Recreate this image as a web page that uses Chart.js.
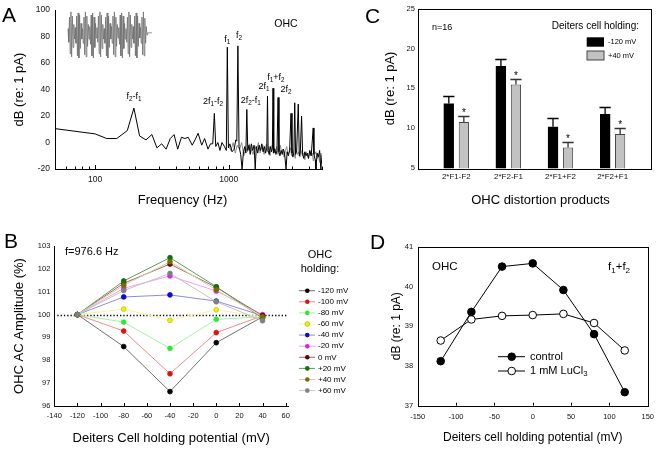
<!DOCTYPE html>
<html>
<head>
<meta charset="utf-8">
<script src="https://cdn.jsdelivr.net/npm/chart.js@4.4.1/dist/chart.umd.min.js"></script>
<style>
  body { margin: 0; background: #fff; }
  #wrap { position: relative; width: 661px; height: 449px; overflow: hidden; }
  canvas { position: absolute; }
</style>
</head>
<body>
<div id="wrap">
  <canvas id="cA" width="330" height="215" style="left:0;top:0"></canvas>
  <canvas id="cC" width="331" height="215" style="left:330px;top:0"></canvas>
  <canvas id="cD" width="331" height="229" style="left:330px;top:220px"></canvas>
  <canvas id="cB" width="360" height="229" style="left:0;top:220px"></canvas>
</div>
<script>
// ---------- datos panel A (espectro)
const specFreq = [
  50, 100, 122, 145, 174, 195, 215, 240, 266, 290,
  315, 340, 365, 390, 415, 443, 470, 497, 533, 560,
  590, 628, 660, 700, 730, 760, 781, 800, 830, 860,
  890, 930, 960, 976.6, 995, 1020, 1060, 1100, 1130, 1150,
  1172, 1195, 1230, 1260, 1290, 1320, 1345, 1367, 1390, 1420,
  1450, 1480, 1510, 1550, 1580, 1610, 1650, 1690, 1730, 1770,
  1810, 1850, 1890, 1930, 1953, 1975, 2010, 2050, 2090, 2125,
  2148, 2175, 2215, 2260, 2300, 2344, 2380, 2420, 2470, 2520,
  2570, 2620, 2690, 2740, 2800, 2860, 2930, 2980, 3030, 3080,
  3125, 3170, 3230, 3320, 3380, 3440, 3516, 3580, 3650, 3720,
  3800, 3880, 3960, 4050, 4150, 4297, 4350, 4450, 4500, 4600,
  4700, 4800, 4900, 5000
];
const specDb = [
  10.5, 6.5, 3, 3, 9, 26, 5, 2, 6, -4,
  -1, -5, 3, 6, -5, 4, 3, 4, -2, 2,
  7, -2, 3, -5, -1, -1, 22, -3, 0, -6,
  0, -3, -6, 72, -4, -1, -7, -5, 2, 1,
  73, -3, -9, -20, -7, -3, -8, 25, -6, -2,
  -9, -1, -6, -2, -20, -3, -8, -2, -6, -1,
  -7, -3, -8, -4, 35, -6, -9, -3, -7, -4,
  41, -8, -5, -9, -6, 34, -7, -10, -6, -9,
  -5, -8, -20, -7, -10, -6, 22, -8, -11, -7,
  30, -9, -6, 29, -10, -7, 20, -9, -12, -7,
  -10, -8, -12, -6, -10, 11, -9, -13, -20, -8,
  -11, -6, -20, -10
];
// segunda traza (gris) en altas frecuencias
const spec2Freq = [
  1000, 1040, 1080, 1120, 1160, 1210, 1250, 1300, 1340, 1380,
  1430, 1470, 1520, 1570, 1620, 1670, 1720, 1760, 1800, 1840,
  1880, 1920, 1960, 2000, 2040, 2080, 2120, 2160, 2200, 2240,
  2290, 2340, 2390, 2440, 2490, 2540, 2600, 2660, 2720, 2780,
  2840, 2900, 2960, 3020, 3090, 3150, 3210, 3280, 3350, 3420,
  3490, 3560, 3640, 3720, 3800, 3880, 3960, 4040, 4130, 4220,
  4310, 4400, 4500, 4600, 4700, 4800, 4900, 5000
];
const spec2Db = [
  -3, -6, 0, -8, -2, -5, 0, -10, -4, -7,
  -1, -5, -9, -3, -6, 0, -8, -4, -2, -9,
  -5, -1, -7, -3, -10, -5, -2, -8, -4, -7,
  -3, -9, -6, -2, -8, -5, -11, -6, -3, -9,
  -7, -4, -10, -6, -8, -12, -5, -9, -7, -11,
  -6, -10, -8, -13, -7, -9, -12, -6, -10, -8,
  -14, -9, -7, -12, -9, -15, -8, -11
];
// forma de onda del recuadro (corriente, unidades relativas)
const insetWave = [
  0.2, -0.45, 0.75, -1.0, 1.0, -1.15, 0.8, -0.7, 0.4, -0.3,
  0.25, -0.5, 0.8, -1.1, 0.95, -1.2, 0.85, -0.75, 0.45, -0.3,
  0.2, -0.5, 0.75, -1.05, 1.0, -1.15, 0.8, -0.65, 0.4, -0.3,
  0.3, -0.55, 0.85, -1.1, 0.95, -1.2, 0.75, -0.7, 0.45, -0.25,
  0.25, -0.45, 0.8, -1.0, 1.0, -1.15, 0.85, -0.75, 0.4, -0.3,
  0.2, -0.5, 0.75, -1.1, 0.95, -1.2, 0.8, -0.7, 0.45, -0.3,
  0.3, -0.5, 0.8, -1.05, 1.0, -1.15, 0.75, -0.65, 0.4, -0.25,
  0.25, -0.55, 0.85, -1.1, 0.95, -1.2, 0.8, -0.75, 0.45, -0.3,
  0.2, -0.45, 0.75, -1.0, 1.0, -1.15, 0.85, -0.7, 0.4, -0.3,
  0.3, -0.5, 0.8, -1.1, 0.95, -1.2, 0.8, -0.65, 0.45, -0.25,
  0.25, -0.5, 0.75, -1.05, 1.0, -1.1, 0.7, -0.5, 0.3, -0.1,
  0, 0, 0, 0, 0, 0, 0, 0
];
const aTicksX = [60, 70, 80, 90, 100, 200, 300, 400, 500, 600, 700, 800, 900, 1000, 2000, 3000, 4000, 5000];
const aLabelsX = [100, 1000];
// etiquetas de picos: [texto (_ = subíndice), frecuencia, dB]
const peakLabels = [
  ['f_2-f_1', 195, 34.4],
  ['2f_1-f_2', 762, 30.6],
  ['f_1', 977, 77.8],
  ['f_2', 1195, 80.6],
  ['2f_2-f_1', 1462, 31.9],
  ['2f_1', 1841, 42.4],
  ['f_1+f_2', 2256, 49.4],
  ['2f_2', 2683, 40]
];

// ---------- datos panel B
const bX = [-120, -80, -40, 0, 40];
const bTicksX = [-140, -120, -100, -80, -60, -40, -20, 0, 20, 40, 60];
const holdLabels = ['-120 mV', '-100 mV', '-80 mV', '-60 mV', '-40 mV', '-20 mV', '0 mV', '+20 mV', '+40 mV', '+60 mV'];
const ampM120 = [100, 98.6, 96.63, 98.77, 99.9];
const ampM100 = [100, 99.28, 97.41, 99.21, 99.95];
const ampM80 = [100, 99.67, 98.52, 99.79, 99.9];
const ampM60 = [100, 100.24, 99.75, 100.21, 99.9];
const ampM40 = [100, 100.77, 100.86, 100.59, 99.95];
const ampM20 = [100, 101.15, 101.69, 101.03, 100.0];
const amp0 = [100, 101.37, 102.21, 101.19, 99.95];
const ampP20 = [100, 101.47, 102.49, 101.22, 99.84];
const ampP40 = [100, 101.28, 102.31, 101.08, 99.9];
const ampP60 = [100, 101.05, 101.8, 100.56, 99.73];
const bSeries = [ampM120, ampM100, ampM80, ampM60, ampM40, ampM20, amp0, ampP20, ampP40, ampP60];

// ---------- datos panel C
const cCats = ['2*F1-F2', '2*F2-F1', '2*F1+F2', '2*F2+F1'];
const cNeg120 = [13.1, 17.8, 10.2, 11.8];
const cNeg120Top = [14.0, 18.7, 11.3, 12.7];
const cPos40 = [10.8, 15.5, 7.6, 9.3];
const cPos40Top = [11.5, 16.2, 8.3, 10.0];

// ---------- datos panel D
const dX = [-120, -80, -40, 0, 40, 80, 120];
const dControl = [38.12, 39.36, 40.5, 40.58, 39.91, 38.8, 37.34];
const dLucl = [38.64, 39.17, 39.26, 39.28, 39.31, 39.08, 38.39];

// ---------- estilos
const FONT = '"Liberation Sans", Arial, sans-serif';
Chart.defaults.font.family = FONT;
Chart.defaults.color = '#111';
Chart.defaults.animation = false;
Chart.defaults.plugins.legend.display = false;
Chart.defaults.plugins.tooltip.enabled = false;

const bMarker = ['#000000', '#e01010', '#33e633', '#f5f000', '#0a0ad0', '#e020e0', '#6a0000', '#0f700f', '#7a6c00', '#808080'];
const bLine = ['#707070', '#f08a8a', '#a6f0a6', '#f8f4a0', '#8c8ce0', '#f0a0f0', '#a86868', '#5c9c5c', '#d6cfa0', '#c4c4c4'];

function fixW(w) { return s => { s.width = w; }; }
function fixH(h) { return s => { s.height = h; }; }

// texto con subíndices: "_" marca el carácter siguiente
function drawRich(ctx, str, x, y, size, align) {
  const parts = [];
  for (let i = 0; i < str.length; i++) {
    if (str[i] === '_') { parts.push([str[i + 1], true]); i++; }
    else parts.push([str[i], false]);
  }
  const sub = size * 0.7;
  let w = 0;
  parts.forEach(([t, s]) => { ctx.font = (s ? sub : size) + 'px ' + FONT; w += ctx.measureText(t).width; });
  let cx = align === 'left' ? x : x - w / 2;
  ctx.textAlign = 'left';
  ctx.textBaseline = 'middle';
  parts.forEach(([t, s]) => {
    ctx.font = (s ? sub : size) + 'px ' + FONT;
    ctx.fillText(t, cx, s ? y + size * 0.3 : y);
    cx += ctx.measureText(t).width;
  });
}

function drawText(ctx, t, x, y, size, align) {
  ctx.font = size + 'px ' + FONT;
  ctx.textAlign = align || 'left';
  ctx.textBaseline = 'middle';
  ctx.fillText(t, x, y);
}

function innerTicks(chart, major, minor, isMajor) {
  const ctx = chart.ctx, sx = chart.scales.x, yb = chart.chartArea.bottom;
  ctx.save();
  ctx.strokeStyle = '#000';
  ctx.lineWidth = 1;
  ctx.beginPath();
  sx.ticks.forEach(t => {
    const px = Math.round(sx.getPixelForValue(t.value)) + 0.5;
    const len = (!isMajor || isMajor(t.value)) ? major : minor;
    ctx.moveTo(px, yb);
    ctx.lineTo(px, yb - len);
  });
  ctx.stroke();
  ctx.restore();
}

function boxPlugin() {
  return {
    id: 'box',
    afterDraw(chart) {
      const { left, right, top, bottom } = chart.chartArea;
      const ctx = chart.ctx;
      ctx.save();
      ctx.strokeStyle = '#000';
      ctx.lineWidth = 1;
      ctx.strokeRect(Math.round(left) + 0.5, Math.round(top) + 0.5, Math.round(right - left), Math.round(bottom - top));
      ctx.restore();
    }
  };
}

function letter(ch, x, y) {
  return {
    id: 'letter' + ch,
    afterDraw(chart) {
      const ctx = chart.ctx;
      ctx.save();
      ctx.fillStyle = '#000';
      ctx.font = '21px ' + FONT;
      ctx.textAlign = 'left';
      ctx.textBaseline = 'alphabetic';
      ctx.fillText(ch, x, y);
      ctx.restore();
    }
  };
}

const axisBorder = { display: true, color: '#000', width: 1 };

// ---------- panel A
new Chart(document.getElementById('cA'), {
  type: 'line',
  data: {
    datasets: [
      { data: specFreq.map((f, i) => ({ x: f, y: specDb[i] })), borderColor: '#000', borderWidth: 1, pointRadius: 0, tension: 0 },
      { data: spec2Freq.map((f, i) => ({ x: f, y: spec2Db[i] })), borderColor: '#8a8a8a', borderWidth: 1, pointRadius: 0, tension: 0 },
      { data: insetWave.map((v, i) => ({ x: i, y: v })), xAxisID: 'xi', yAxisID: 'yi', borderColor: '#707070', borderWidth: 0.8, pointRadius: 0, tension: 0 }
    ]
  },
  options: {
    responsive: false,
    layout: { padding: { left: 0, top: 9.5, right: 8, bottom: 0 } },
    scales: {
      x: {
        type: 'logarithmic', min: 50, max: 5000,
        afterBuildTicks: s => { s.ticks = aTicksX.map(v => ({ value: v })); },
        afterFit: fixH(46),
        grid: { display: false, drawTicks: false },
        border: axisBorder,
        ticks: { autoSkip: false, maxRotation: 0, padding: 6, color: '#111', font: { size: 8.5 },
          callback: v => aLabelsX.includes(v) ? String(v) : '' }
      },
      y: {
        min: -20, max: 100,
        afterFit: fixW(55),
        grid: { display: false, drawTicks: false },
        border: axisBorder,
        ticks: { stepSize: 20, padding: 5, color: '#111', font: { size: 8.5 } },
        title: { display: true, text: 'dB (re: 1 pA)', color: '#000', font: { size: 13 }, padding: { top: 12, bottom: 0 } }
      },
      xi: { type: 'linear', display: false, min: -17.94, max: 350.4 },
      yi: { type: 'linear', display: false, min: -6.51, max: 1.086 }
    }
  },
  plugins: [{
    id: 'annA',
    afterDraw(chart) {
      const ctx = chart.ctx, sx = chart.scales.x, sy = chart.scales.y;
      innerTicks(chart, 4, 2.5, v => aLabelsX.includes(v));
      ctx.save();
      ctx.fillStyle = '#000';
      peakLabels.forEach(([t, f, db]) => drawRich(ctx, t, sx.getPixelForValue(f), sy.getPixelForValue(db), 9, 'center'));
      drawText(ctx, 'OHC', 286, 24, 10.5, 'center');
      drawText(ctx, 'Frequency (Hz)', 182.5, 200, 13, 'center');
      ctx.restore();
    }
  }, letter('A', 2, 22)]
});

// ---------- panel B
new Chart(document.getElementById('cB'), {
  type: 'line',
  data: {
    datasets: bSeries.map((vals, i) => ({
      label: holdLabels[i],
      data: vals.map((v, j) => ({ x: bX[j], y: v })),
      borderColor: bLine[i], borderWidth: 1,
      pointRadius: 2.4, pointBorderWidth: 0.8,
      pointBackgroundColor: bMarker[i],
      pointBorderColor: i === 3 ? '#c8c000' : bMarker[i],
      tension: 0, order: bSeries.length - i
    }))
  },
  options: {
    responsive: false,
    layout: { padding: { left: 0, top: 26, right: 72, bottom: 0 } },
    scales: {
      x: {
        type: 'linear', min: -140, max: 62,
        afterBuildTicks: s => { s.ticks = bTicksX.map(v => ({ value: v })); },
        afterFit: fixH(43),
        grid: { display: false, drawTicks: false },
        border: axisBorder,
        ticks: { autoSkip: false, maxRotation: 0, padding: 5, color: '#111', font: { size: 7.5 } },
        title: { display: true, text: 'Deiters Cell holding potential (mV)', color: '#000', font: { size: 13 }, padding: { top: 0, bottom: 2.5 } }
      },
      y: {
        min: 96, max: 103,
        afterFit: fixW(54.3),
        grid: { display: false, drawTicks: false },
        border: axisBorder,
        ticks: { stepSize: 1, padding: 4, color: '#111', font: { size: 7.5 } },
        title: { display: true, text: 'OHC AC Amplitude (%)', color: '#000', font: { size: 13 }, padding: { top: 12, bottom: 0 } }
      }
    }
  },
  plugins: [{
    id: 'refLine',
    beforeDatasetsDraw(chart) {
      const ctx = chart.ctx, sy = chart.scales.y, { left, right } = chart.chartArea;
      const y = Math.round(sy.getPixelForValue(100)) + 0.5;
      ctx.save();
      ctx.strokeStyle = '#000';
      ctx.lineWidth = 1.3;
      ctx.setLineDash([1.3, 2]);
      ctx.beginPath();
      ctx.moveTo(left + 3, y);
      ctx.lineTo(right, y);
      ctx.stroke();
      ctx.restore();
    },
    afterDraw(chart) {
      const ctx = chart.ctx;
      innerTicks(chart, 3, 3);
      ctx.save();
      ctx.fillStyle = '#000';
      drawText(ctx, 'f=976.6 Hz', 65, 31.7, 11);
      drawText(ctx, 'OHC', 320, 35, 11, 'center');
      drawText(ctx, 'holding:', 320, 49, 11, 'center');
      holdLabels.forEach((lab, i) => {
        const y = 70.7 + i * 11.1;
        ctx.strokeStyle = bLine[i];
        ctx.lineWidth = 1;
        ctx.beginPath();
        ctx.moveTo(299, y);
        ctx.lineTo(315, y);
        ctx.stroke();
        ctx.fillStyle = bMarker[i];
        ctx.beginPath();
        ctx.arc(307.3, y, 2.3, 0, Math.PI * 2);
        ctx.fill();
        if (i === 3) { ctx.strokeStyle = '#c8c000'; ctx.stroke(); }
        ctx.fillStyle = '#000';
        drawText(ctx, lab, 318, y, 8);
      });
      ctx.restore();
    }
  }, letter('B', 4, 28)]
});

// ---------- panel C
new Chart(document.getElementById('cC'), {
  type: 'bar',
  data: {
    datasets: [
      { label: '-120 mV', data: cNeg120.map((v, i) => ({ x: i + 1, y: v })), backgroundColor: '#000', borderColor: '#000', borderWidth: 0 },
      { label: '+40 mV', data: cPos40.map((v, i) => ({ x: i + 1, y: v })), backgroundColor: '#c2c2c2', borderColor: '#444', borderWidth: 1 }
    ]
  },
  options: {
    responsive: false,
    categoryPercentage: 0.577,
    barPercentage: 0.68,
    layout: { padding: { left: 45, top: 8.5, right: 9.3, bottom: 0 } },
    scales: {
      x: {
        type: 'linear', min: 0.27, max: 4.75, offset: false,
        afterBuildTicks: s => { s.ticks = cCats.map((c, i) => ({ value: i + 1 })); },
        afterFit: fixH(46.7),
        grid: { display: false, drawTicks: false },
        border: { display: false },
        ticks: { autoSkip: false, maxRotation: 0, padding: 3.5, color: '#111', font: { size: 8 },
          callback: v => cCats[v - 1] }
      },
      y: {
        min: 5, max: 25,
        afterFit: fixW(43.3),
        grid: { display: false, drawTicks: false },
        border: { display: false },
        ticks: { stepSize: 5, padding: 3.5, color: '#111', font: { size: 7.5 } },
        title: { display: true, text: 'dB (re: 1 pA)', color: '#000', font: { size: 13 }, padding: { top: 7.7, bottom: 0 } }
      }
    }
  },
  plugins: [{
    id: 'errBars',
    afterDatasetsDraw(chart) {
      const ctx = chart.ctx, sy = chart.scales.y;
      [cNeg120Top, cPos40Top].forEach((tops, di) => {
        chart.getDatasetMeta(di).data.forEach((bar, i) => {
          const yt = Math.round(sy.getPixelForValue(tops[i])) + 0.5;
          const hw = bar.width / 2 + 0.5;
          ctx.save();
          ctx.strokeStyle = di ? '#333' : '#000';
          ctx.lineWidth = 1.3;
          ctx.beginPath();
          ctx.moveTo(bar.x, bar.y);
          ctx.lineTo(bar.x, yt);
          ctx.moveTo(bar.x - hw, yt);
          ctx.lineTo(bar.x + hw, yt);
          ctx.stroke();
          if (di) {
            ctx.fillStyle = '#000';
            ctx.font = '10px ' + FONT;
            ctx.textAlign = 'center';
            ctx.textBaseline = 'alphabetic';
            ctx.fillText('*', bar.x, yt - 1);
          }
          ctx.restore();
        });
      });
    },
    afterDraw(chart) {
      const ctx = chart.ctx;
      ctx.save();
      ctx.fillStyle = '#000';
      drawText(ctx, 'n=16', 102, 28, 9);
      drawText(ctx, 'Deiters cell holding:', 221.7, 26.7, 10);
      ctx.fillStyle = '#000';
      ctx.fillRect(256.7, 37.3, 17.3, 9.4);
      ctx.fillStyle = '#c2c2c2';
      ctx.fillRect(257, 51, 17, 9);
      ctx.strokeStyle = '#444';
      ctx.lineWidth = 1;
      ctx.strokeRect(257, 51, 17, 9);
      ctx.fillStyle = '#000';
      drawText(ctx, '-120 mV', 278, 42, 7.5);
      drawText(ctx, '+40 mV', 278, 55.5, 7.5);
      drawText(ctx, 'OHC distortion products', 210.5, 200, 13, 'center');
      ctx.restore();
    }
  }, boxPlugin(), letter('C', 35, 22.7)]
});

// ---------- panel D
new Chart(document.getElementById('cD'), {
  type: 'line',
  data: {
    datasets: [
      { label: 'control', data: dX.map((x, i) => ({ x, y: dControl[i] })), borderColor: '#000', borderWidth: 1, pointRadius: 3.8, pointBackgroundColor: '#000', pointBorderColor: '#000', tension: 0 },
      { label: '1 mM LuCl3', data: dX.map((x, i) => ({ x, y: dLucl[i] })), borderColor: '#000', borderWidth: 1, pointRadius: 3.8, pointBackgroundColor: '#fff', pointBorderColor: '#000', pointBorderWidth: 1, tension: 0 }
    ]
  },
  options: {
    responsive: false,
    layout: { padding: { left: 45, top: 26.7, right: 8.7, bottom: 0 } },
    scales: {
      x: {
        type: 'linear', min: -150, max: 150,
        afterFit: fixH(43.3),
        grid: { display: false, drawTicks: false },
        border: { display: false },
        ticks: { stepSize: 50, autoSkip: false, maxRotation: 0, padding: 7, color: '#111', font: { size: 7.5 } },
        title: { display: true, text: 'Deiters cell holding potential (mV)', color: '#000', font: { size: 12 }, padding: { top: 0, bottom: 3.8 } }
      },
      y: {
        min: 37, max: 41,
        afterFit: fixW(42.7),
        grid: { display: false, drawTicks: false },
        border: { display: false },
        ticks: { stepSize: 1, padding: 4.5, color: '#111', font: { size: 7.5 } },
        title: { display: true, text: 'dB (re: 1 pA)', color: '#000', font: { size: 12 }, padding: { top: 14, bottom: 0 } }
      }
    }
  },
  plugins: [{
    id: 'annD',
    afterDraw(chart) {
      const ctx = chart.ctx;
      innerTicks(chart, 3, 3);
      ctx.save();
      ctx.fillStyle = '#000';
      drawText(ctx, 'OHC', 102, 47, 11.5);
      drawRich(ctx, 'f_1+f_2', 278, 47, 11.5, 'left');
      [[136.7, '#000', 'control'], [151, '#fff', '1 mM LuCl_3']].forEach(([y, fill, lab]) => {
        ctx.strokeStyle = '#000';
        ctx.lineWidth = 1;
        ctx.beginPath();
        ctx.moveTo(168, y);
        ctx.lineTo(195, y);
        ctx.stroke();
        ctx.fillStyle = fill;
        ctx.beginPath();
        ctx.arc(181.7, y, 3.8, 0, Math.PI * 2);
        ctx.fill();
        ctx.stroke();
        ctx.fillStyle = '#000';
        drawRich(ctx, lab, 200, y, 11, 'left');
      });
      ctx.restore();
    }
  }, boxPlugin(), letter('D', 40, 29)]
});
</script>
</body>
</html>
